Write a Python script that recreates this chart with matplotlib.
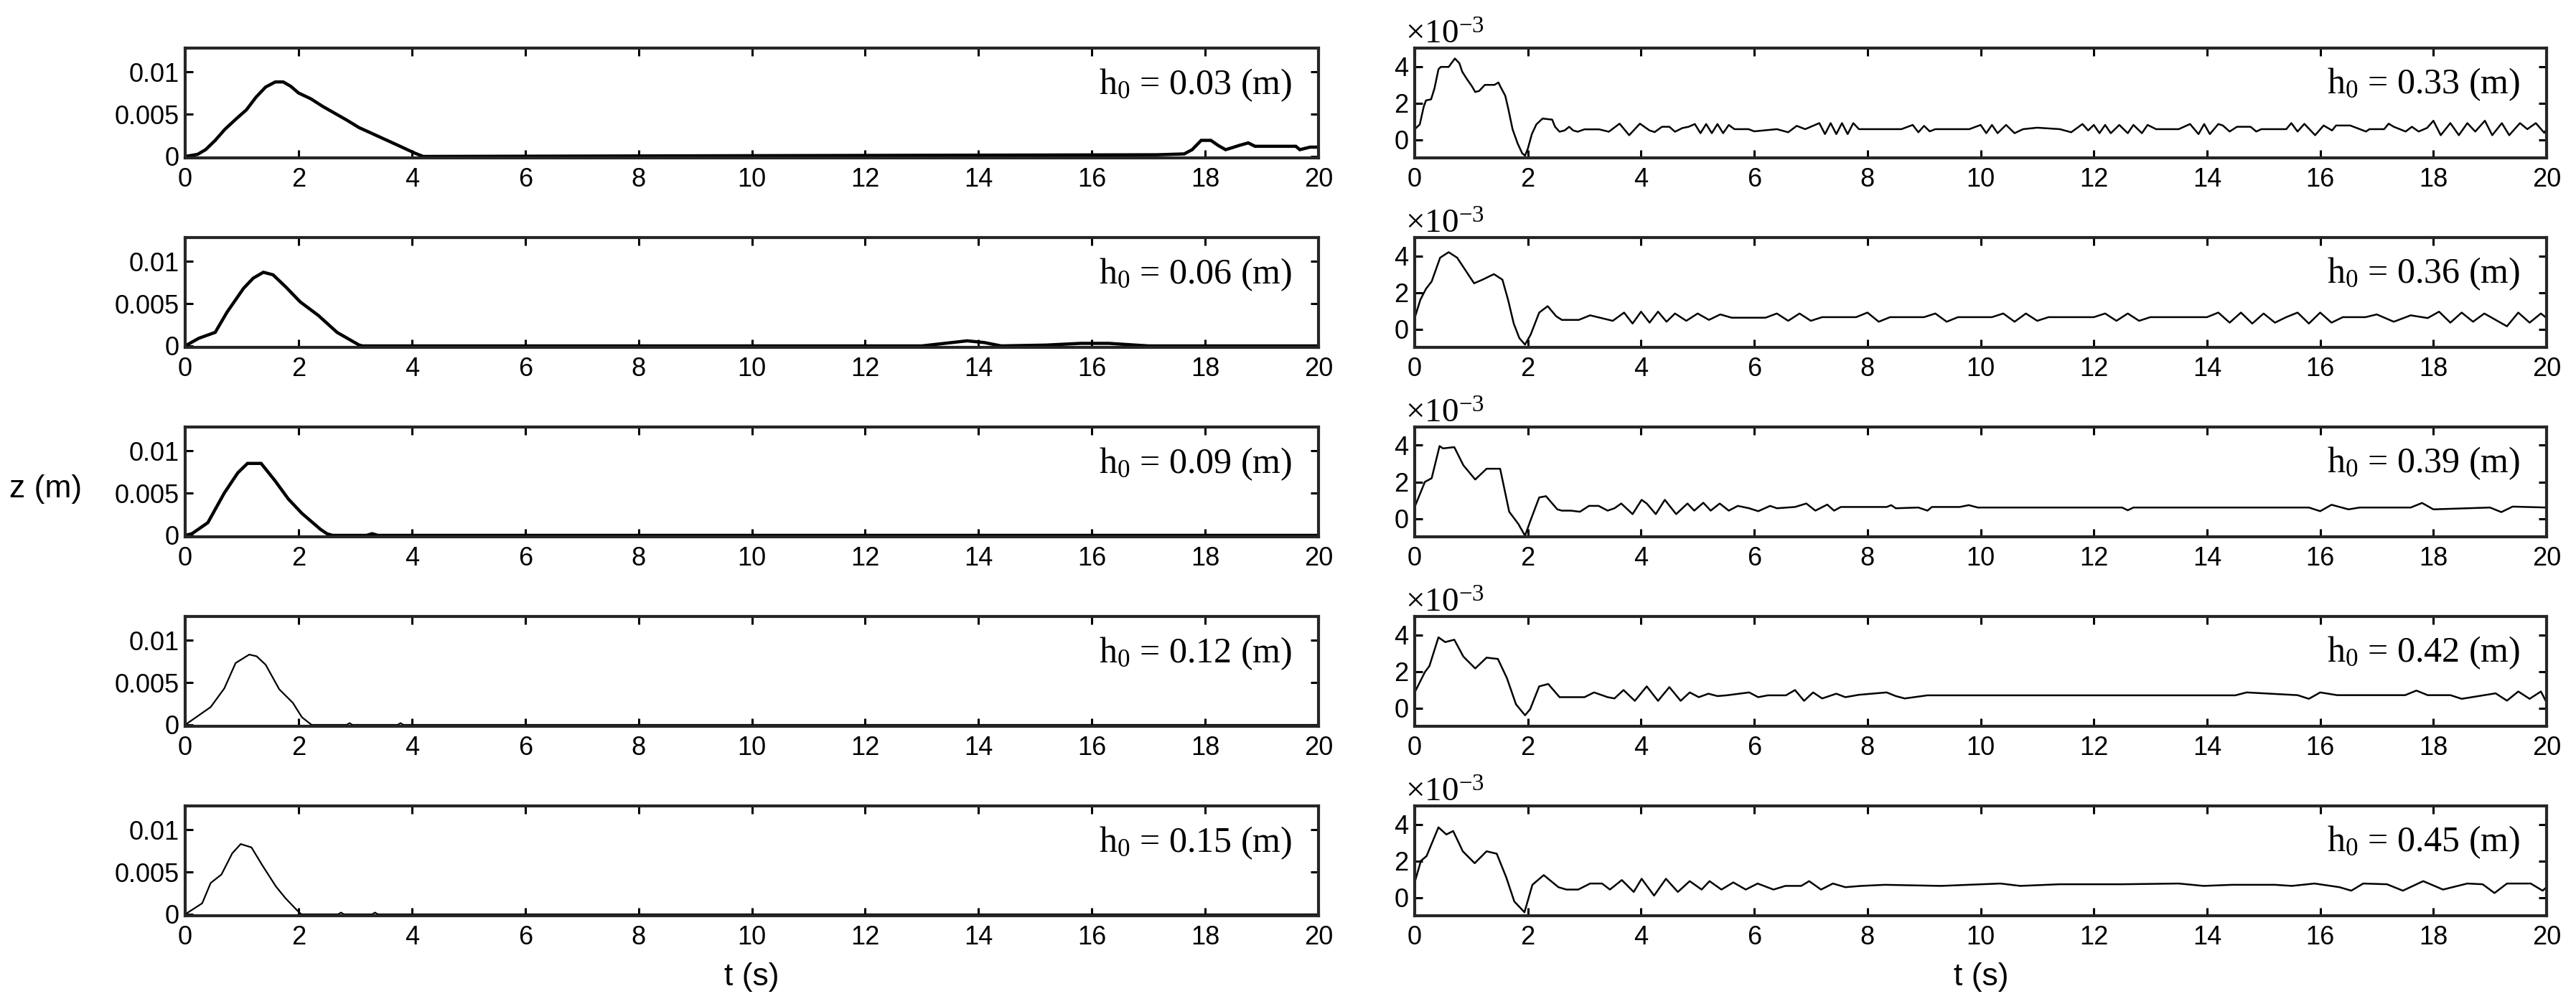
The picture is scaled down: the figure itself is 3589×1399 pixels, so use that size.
import matplotlib
matplotlib.use("Agg")
import matplotlib.pyplot as plt

plt.rcParams['font.family'] = ['Liberation Sans', 'DejaVu Sans']
plt.rcParams['mathtext.fontset'] = 'custom'
plt.rcParams['mathtext.rm'] = 'Liberation Serif'
plt.rcParams['mathtext.it'] = 'Liberation Serif:italic'

# ---------------- data ----------------
xticks = [0, 2, 4, 6, 8, 10, 12, 14, 16, 18, 20]
left_labels = ["0.03", "0.06", "0.09", "0.12", "0.15"]
right_labels = ["0.33", "0.36", "0.39", "0.42", "0.45"]

# left column, z in m
L1_t = [0, 0.22, 0.36, 0.53, 0.7, 0.91, 1.08, 1.25, 1.42, 1.59, 1.73, 1.86, 2.0, 2.22, 2.43, 2.64, 2.85,
        3.07, 3.17, 3.76, 4.05, 4.2, 17.15, 17.63, 17.77, 17.93, 18.1, 18.23, 18.36, 18.46, 18.6,
        18.76, 18.88, 19.6, 19.67, 19.85, 20.0]
L1_z = [0, 0.00025, 0.0008, 0.0019, 0.0032, 0.0045, 0.0055, 0.0070, 0.0082, 0.0088, 0.0088, 0.0083,
        0.0075, 0.0068, 0.0059, 0.0051, 0.0043, 0.0034, 0.0031, 0.0013, 0.0004, 0.0, 0.0002, 0.0003,
        0.0008, 0.0019, 0.0019, 0.0013, 0.0008, 0.0010, 0.0013, 0.0016, 0.0012, 0.0012, 0.0008,
        0.0011, 0.0011]

L2_t = [0, 0.24, 0.53, 0.74, 1.03, 1.2, 1.38, 1.55, 1.77, 2.03, 2.35, 2.68, 2.94, 3.07, 3.13,
        13.0, 13.4, 13.8, 14.1, 14.4, 15.2, 15.8, 16.3, 17.0, 20.0]
L2_z = [0, 0.0009, 0.0016, 0.0040, 0.0068, 0.0080, 0.0087, 0.0084, 0.0070, 0.0052, 0.0036, 0.0016,
        0.0006, 0.0001, 0.0, 0.0, 0.0003, 0.0006, 0.0004, 0.0, 0.0001, 0.0003, 0.0003, 0.0, 0.0]

L3_t = [0, 0.12, 0.4, 0.69, 0.93, 1.1, 1.34, 1.58, 1.82, 2.06, 2.39, 2.5, 2.6, 3.2, 3.3, 3.4, 20.0]
L3_z = [0, 0.0002, 0.0015, 0.0050, 0.0074, 0.0085, 0.0085, 0.0065, 0.0043, 0.0026, 0.0007, 0.0002,
        0.0, 0.0, 0.0002, 0.0, 0.0]

L4_t = [0, 0.45, 0.69, 0.89, 1.13, 1.26, 1.42, 1.66, 1.9, 2.06, 2.23, 2.85, 2.9, 2.95, 3.75, 3.8,
        3.85, 20.0]
L4_z = [0, 0.0021, 0.0043, 0.0073, 0.0083, 0.0081, 0.0071, 0.0042, 0.0026, 0.0009, 0.0, 0.0,
        0.0002, 0.0, 0.0, 0.0002, 0.0, 0.0]

L5_t = [0, 0.3, 0.45, 0.64, 0.83, 0.98, 1.17, 1.36, 1.6, 1.77, 1.97, 2.05, 2.7, 2.75, 2.8, 3.3,
        3.35, 3.4, 20.0]
L5_z = [0, 0.0013, 0.0037, 0.0047, 0.0072, 0.0083, 0.0079, 0.0058, 0.0033, 0.0019, 0.0005, 0.0,
        0.0, 0.0002, 0.0, 0.0, 0.0002, 0.0, 0.0]

# right column, z in units of 1e-3 m
R1_t = [0, 0.09, 0.16, 0.2, 0.29, 0.35, 0.42, 0.46, 0.6, 0.71, 0.79, 0.84, 0.92, 1.01, 1.07, 1.14,
        1.24, 1.41, 1.48, 1.52, 1.6, 1.65, 1.73, 1.82, 1.9, 1.95, 2.0, 2.07, 2.15, 2.26, 2.43, 2.48,
        2.56, 2.65, 2.73, 2.8, 2.88, 3.0, 3.26, 3.43, 3.62, 3.79, 3.98, 4.15, 4.24, 4.37, 4.5, 4.6,
        4.73, 4.84, 4.95, 5.05, 5.15, 5.25, 5.35, 5.45, 5.55, 5.65, 5.9, 6.0, 6.4, 6.6, 6.75, 6.9,
        7.15, 7.25, 7.35, 7.45, 7.55, 7.65, 7.75, 7.85, 8.6, 8.8, 8.9, 9.0, 9.1, 9.2, 9.8, 10.0,
        10.1, 10.2, 10.3, 10.45, 10.6, 10.75, 11.0, 11.4, 11.6, 11.8, 11.9, 12.0, 12.1, 12.2, 12.3,
        12.45, 12.6, 12.7, 12.85, 12.95, 13.1, 13.5, 13.7, 13.85, 13.95, 14.05, 14.2, 14.28, 14.4,
        14.53, 14.77, 14.87, 14.96, 15.4, 15.49, 15.6, 15.72, 15.91, 16.06, 16.21, 16.28, 16.53,
        16.81, 16.87, 17.13, 17.21, 17.3, 17.51, 17.62, 17.74, 17.89, 18.0, 18.13, 18.3, 18.45,
        18.6, 18.74, 18.91, 19.04, 19.21, 19.34, 19.53, 19.66, 19.81, 19.96, 20.0]
R1_z = [0.56, 0.83, 1.8, 2.14, 2.2, 2.8, 3.84, 3.97, 3.97, 4.43, 4.17, 3.71, 3.32, 2.92, 2.6, 2.66,
        2.99, 2.99, 3.12, 2.86, 2.4, 1.74, 0.56, -0.22, -0.75, -0.88, -0.49, 0.3, 0.83, 1.15, 1.09,
        0.7, 0.43, 0.5, 0.7, 0.5, 0.43, 0.56, 0.56, 0.43, 0.87, 0.24, 0.87, 0.5, 0.41, 0.7, 0.7,
        0.43, 0.63, 0.7, 0.85, 0.35, 0.85, 0.35, 0.85, 0.35, 0.8, 0.57, 0.57, 0.45, 0.57, 0.4, 0.75,
        0.57, 0.9, 0.3, 0.9, 0.3, 0.9, 0.3, 0.9, 0.57, 0.57, 0.8, 0.4, 0.75, 0.45, 0.57, 0.57, 0.8,
        0.35, 0.8, 0.35, 0.8, 0.35, 0.57, 0.65, 0.57, 0.4, 0.85, 0.5, 0.8, 0.35, 0.8, 0.35, 0.8,
        0.35, 0.8, 0.35, 0.8, 0.57, 0.57, 0.85, 0.3, 0.85, 0.3, 0.85, 0.77, 0.44, 0.7, 0.7, 0.44,
        0.57, 0.57, 0.9, 0.44, 0.86, 0.24, 0.77, 0.5, 0.77, 0.77, 0.44, 0.57, 0.57, 0.87, 0.7, 0.44,
        0.7, 0.44, 0.64, 1.03, 0.24, 0.9, 0.24, 0.9, 0.44, 1.03, 0.24, 0.9, 0.24, 0.9, 0.57, 0.9,
        0.37, 0.57]

R2_t = [0, 0.1, 0.2, 0.3, 0.45, 0.6, 0.75, 0.9, 1.05, 1.2, 1.4, 1.55, 1.65, 1.75, 1.85, 1.95, 2.05,
        2.2, 2.35, 2.5, 2.6, 2.9, 3.1, 3.3, 3.5, 3.7, 3.85, 4.0, 4.15, 4.3, 4.45, 4.6, 4.8, 5.0, 5.2,
        5.4, 5.6, 6.2, 6.4, 6.6, 6.8, 7.0, 7.2, 7.8, 8.0, 8.2, 8.4, 9.0, 9.2, 9.4, 9.6, 10.2, 10.4,
        10.6, 10.8, 11.0, 11.2, 12.0, 12.2, 12.4, 12.6, 12.8, 13.0, 13.5, 14.0, 14.2, 14.4, 14.6,
        14.8, 15.0, 15.2, 15.4, 15.6, 15.8, 16.0, 16.2, 16.4, 16.8, 17.0, 17.3, 17.6, 17.9, 18.1,
        18.3, 18.5, 18.7, 18.9, 19.1, 19.3, 19.5, 19.7, 19.9, 20.0]
R2_z = [0.6, 1.6, 2.2, 2.6, 3.9, 4.2, 3.9, 3.2, 2.5, 2.7, 3.0, 2.7, 1.6, 0.3, -0.5, -0.85, -0.3,
        0.9, 1.25, 0.7, 0.5, 0.5, 0.75, 0.6, 0.45, 0.9, 0.3, 0.95, 0.35, 0.95, 0.4, 0.85, 0.45, 0.85,
        0.5, 0.8, 0.62, 0.62, 0.85, 0.45, 0.85, 0.45, 0.65, 0.65, 0.9, 0.4, 0.65, 0.65, 0.85, 0.4,
        0.65, 0.65, 0.85, 0.4, 0.85, 0.45, 0.65, 0.65, 0.85, 0.45, 0.85, 0.45, 0.65, 0.65, 0.65,
        0.9, 0.35, 0.9, 0.3, 0.85, 0.35, 0.65, 0.9, 0.3, 0.9, 0.35, 0.65, 0.65, 0.8, 0.4, 0.75,
        0.6, 0.95, 0.35, 0.9, 0.4, 0.85, 0.5, 0.15, 0.9, 0.35, 0.85, 0.6]

R3_t = [0, 0.18, 0.3, 0.44, 0.5, 0.7, 0.86, 1.07, 1.27, 1.51, 1.67, 1.83, 1.95, 2.04, 2.2, 2.32,
        2.52, 2.6, 2.76, 2.92, 3.08, 3.25, 3.41, 3.53, 3.65, 3.85, 4.01, 4.1, 4.26, 4.42, 4.62, 4.82,
        4.94, 5.1, 5.23, 5.39, 5.55, 5.71, 5.91, 6.07, 6.28, 6.4, 6.72, 6.92, 7.08, 7.29, 7.41, 7.53,
        8.34, 8.42, 8.5, 8.9, 9.06, 9.14, 9.63, 9.79, 9.95, 12.5, 12.6, 12.7, 15.8, 16.0, 16.2,
        16.5, 16.7, 17.6, 17.8, 18.0, 19.0, 19.2, 19.4, 20.0]
R3_z = [0.63, 2.0, 2.2, 3.96, 3.83, 3.9, 2.91, 2.13, 2.72, 2.72, 0.37, -0.29, -0.94, -0.16, 1.15,
        1.22, 0.5, 0.43, 0.43, 0.37, 0.69, 0.69, 0.43, 0.56, 0.82, 0.24, 1.02, 0.82, 0.24, 1.02, 0.24,
        0.82, 0.43, 0.86, 0.43, 0.82, 0.43, 0.69, 0.56, 0.4, 0.69, 0.56, 0.63, 0.82, 0.43, 0.76,
        0.43, 0.63, 0.63, 0.73, 0.56, 0.6, 0.43, 0.63, 0.63, 0.73, 0.6, 0.6, 0.45, 0.6, 0.6, 0.4,
        0.75, 0.5, 0.6, 0.6, 0.85, 0.5, 0.6, 0.35, 0.65, 0.6]

R4_t = [0, 0.18, 0.26, 0.42, 0.54, 0.7, 0.86, 1.07, 1.27, 1.47, 1.63, 1.79, 1.95, 2.04, 2.2, 2.36,
        2.56, 3.0, 3.17, 3.41, 3.53, 3.69, 3.89, 4.1, 4.3, 4.5, 4.7, 4.86, 5.02, 5.19, 5.35, 5.51,
        5.91, 6.07, 6.24, 6.56, 6.72, 6.88, 7.04, 7.2, 7.45, 7.61, 7.85, 8.34, 8.5, 8.66, 9.06,
        14.5, 14.7, 15.6, 15.8, 16.0, 16.3, 16.6, 17.5, 17.7, 17.9, 18.3, 18.5, 19.1, 19.3, 19.5,
        19.7, 19.9, 20.0]
R4_z = [0.85, 1.96, 2.29, 3.86, 3.6, 3.73, 2.81, 2.16, 2.75, 2.68, 1.63, 0.2, -0.4, -0.07, 1.18,
        1.31, 0.59, 0.59, 0.85, 0.59, 0.52, 0.98, 0.39, 1.18, 0.39, 1.14, 0.39, 0.85, 0.59, 0.78,
        0.65, 0.69, 0.85, 0.59, 0.69, 0.69, 0.98, 0.39, 0.85, 0.52, 0.78, 0.59, 0.72, 0.85, 0.65,
        0.52, 0.69, 0.69, 0.85, 0.7, 0.5, 0.85, 0.7, 0.7, 0.7, 0.95, 0.7, 0.7, 0.5, 0.8, 0.4, 0.9,
        0.5, 0.9, 0.3]

R5_t = [0, 0.11, 0.21, 0.42, 0.56, 0.68, 0.85, 1.06, 1.27, 1.45, 1.62, 1.76, 1.94, 2.08, 2.28,
        2.54, 2.68, 2.89, 3.1, 3.31, 3.45, 3.66, 3.87, 4.01, 4.23, 4.44, 4.65, 4.86, 5.07, 5.21,
        5.42, 5.63, 5.85, 6.06, 6.34, 6.55, 6.83, 6.97, 7.18, 7.39, 7.61, 7.89, 8.31, 9.3, 10.35,
        10.7, 11.4, 11.83, 12.5, 13.5, 13.94, 14.44, 15.2, 15.5, 15.9, 16.34, 16.55, 16.76, 17.18,
        17.46, 17.82, 18.17, 18.6, 18.87, 19.08, 19.3, 19.72, 19.93, 20.0]
R5_z = [0.82, 2.0, 2.26, 3.83, 3.44, 3.63, 2.52, 1.87, 2.52, 2.39, 1.08, -0.22, -0.81, 0.69, 1.22,
        0.56, 0.43, 0.43, 0.76, 0.76, 0.43, 0.95, 0.3, 1.02, 0.1, 1.02, 0.3, 0.89, 0.43, 0.89, 0.43,
        0.82, 0.43, 0.76, 0.43, 0.63, 0.63, 0.89, 0.43, 0.76, 0.56, 0.63, 0.69, 0.63, 0.76, 0.63,
        0.72, 0.72, 0.72, 0.76, 0.63, 0.69, 0.69, 0.63, 0.76, 0.56, 0.37, 0.76, 0.72, 0.37, 0.89,
        0.43, 0.76, 0.72, 0.24, 0.76, 0.76, 0.37, 0.56]

left_series = [(L1_t, L1_z), (L2_t, L2_z), (L3_t, L3_z), (L4_t, L4_z), (L5_t, L5_z)]
right_series = [(R1_t, R1_z), (R2_t, R2_z), (R3_t, R3_z), (R4_t, R4_z), (R5_t, R5_z)]

# ---------------- layout ----------------
W, H = 3589, 1399
fig = plt.figure(figsize=(W / 100, H / 100), dpi=100)
tops = [67, 331, 595, 859, 1123]
ah = 153
left_lw = [3.2, 3.2, 3.2, 1.6, 1.6]
spine_color = '#262626'


def style(ax):
    for s in ax.spines.values():
        s.set_linewidth(3)
        s.set_color(spine_color)
    ax.tick_params(direction='in', top=True, right=True, length=8, width=2.2,
                   labelsize=26, pad=6, colors='black')
    ax.tick_params(axis='x', pad=9)
    ax.set_xlim(0, 20)
    ax.set_xticks(xticks)


for i in range(5):
    # left
    ax = fig.add_axes([258 / W, 1 - (tops[i] + ah) / H, 1579 / W, ah / H])
    t, z = left_series[i]
    ax.plot(t, z, color='black', lw=left_lw[i], solid_joinstyle='miter')
    style(ax)
    ax.set_ylim(-0.00017, 0.0128)
    ax.set_yticks([0, 0.005, 0.01])
    ax.set_yticklabels(['0', '0.005', '0.01'])
    ax.text(0.977, 0.58, r'h$_\mathrm{0}$ = ' + left_labels[i] + ' (m)', transform=ax.transAxes,
            ha='right', va='baseline', fontsize=36, family='Liberation Serif')

    # right
    ax = fig.add_axes([1971 / W, 1 - (tops[i] + ah) / H, 1577 / W, ah / H])
    t, z = right_series[i]
    ax.plot(t, z, color='black', lw=1.8)
    style(ax)
    ax.set_ylim(-1, 5)
    ax.set_yticks([0, 2, 4])
    ax.set_yticklabels(['0', '2', '4'])
    ax.text(0.977, 0.59, r'h$_\mathrm{0}$ = ' + right_labels[i] + ' (m)', transform=ax.transAxes,
            ha='right', va='baseline', fontsize=36, family='Liberation Serif')
    ax.text(-0.008, 1.04, r'$\times\mathrm{10}^{\mathrm{-3}}$', transform=ax.transAxes,
            ha='left', va='baseline', fontsize=34)

fig.text(13 / W, 1 - 682 / H, 'z (m)', ha='left', va='center', fontsize=32)
fig.text(1047 / W, 1 - 1362 / H, 't (s)', ha='center', va='center', fontsize=32)
fig.text(2760 / W, 1 - 1362 / H, 't (s)', ha='center', va='center', fontsize=32)

fig.savefig('out.png', dpi=100, facecolor='white')
